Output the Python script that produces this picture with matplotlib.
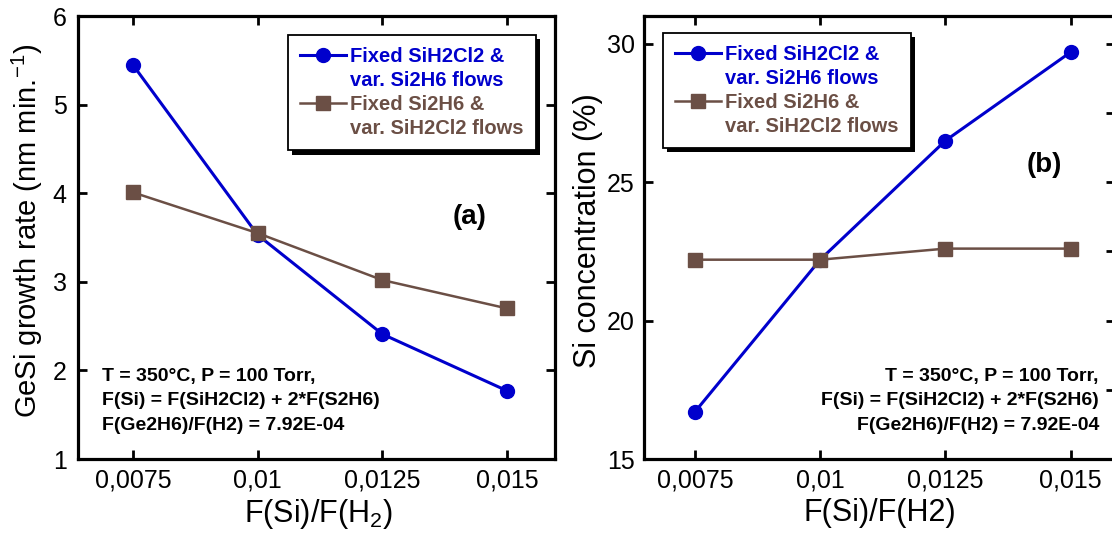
import matplotlib
matplotlib.use("Agg")
import matplotlib.pyplot as plt
from matplotlib.lines import Line2D
from matplotlib import patheffects as pe

plt.rcParams["font.family"] = ["Liberation Sans", "DejaVu Sans"]
plt.rcParams["mathtext.default"] = "regular"

# Flow ratio F(Si)/F(H2)
ratio = [0.0075, 0.01, 0.0125, 0.015]
ratio_labels = ["0,0075", "0,01", "0,0125", "0,015"]

# (a) GeSi growth rate, nm/min
rate_fixed_dcs = [5.45, 3.53, 2.41, 1.77]
rate_fixed_disilane = [4.01, 3.55, 3.02, 2.70]

# (b) Si concentration, %
si_fixed_dcs = [16.7, 22.2, 26.5, 29.7]
si_fixed_disilane = [22.2, 22.2, 22.6, 22.6]

BLUE = "#0000CC"
BROWN = "#6B4F45"

label_dcs = ["Fixed SiH2Cl2 &", "var. Si2H6 flows"]
label_disilane = ["Fixed Si2H6 &", "var. SiH2Cl2 flows"]
conditions = ("T = 350\u00b0C, P = 100 Torr,\n"
              "F(Si) = F(SiH2Cl2) + 2*F(S2H6)\n"
              "F(Ge2H6)/F(H2) = 7.92E-04")

fig = plt.figure(figsize=(11.12, 5.35), dpi=100)
ax1 = fig.add_axes([0.0701, 0.142, 0.429, 0.828])
ax2 = fig.add_axes([0.579, 0.142, 0.4236, 0.828])


def style_axes(ax):
    for s in ax.spines.values():
        s.set_linewidth(2.3)
    ax.tick_params(which="both", direction="in", top=True, right=True,
                   length=6.5, width=2.0, labelsize=18)
    ax.set_xticks(ratio)
    ax.set_xticklabels(ratio_labels)
    ax.tick_params(axis="x", pad=7)


def draw_legend(ax, anchor):
    handles = [
        Line2D([], [], color=BLUE, lw=2.2, marker="o", ms=10),
        Line2D([], [], linestyle="none"),
        Line2D([], [], color=BROWN, lw=1.8, marker="s", ms=9.5),
        Line2D([], [], linestyle="none"),
    ]
    labels = label_dcs + label_disilane
    leg = ax.legend(handles, labels, loc="upper left", bbox_to_anchor=anchor,
                    borderaxespad=0, frameon=True, fancybox=False,
                    framealpha=1.0, facecolor="white",
                    handlelength=2.3, handletextpad=0.2, labelspacing=0.25,
                    borderpad=0.6, prop={"weight": "bold", "size": 14.5})
    frame = leg.get_frame()
    frame.set_edgecolor("black")
    frame.set_linewidth(1.3)
    frame.set_path_effects([pe.SimplePatchShadow(offset=(3, -3),
                                                 shadow_rgbFace="black",
                                                 alpha=1.0),
                            pe.Normal()])
    for txt, col in zip(leg.get_texts(), [BLUE, BLUE, BROWN, BROWN]):
        txt.set_color(col)
    return leg


# ---- (a) growth rate ----
ax1.plot(ratio, rate_fixed_dcs, color=BLUE, lw=2.2, marker="o", ms=10,
         zorder=3)
ax1.plot(ratio, rate_fixed_disilane, color=BROWN, lw=1.8, marker="s", ms=9.5,
         zorder=4)
style_axes(ax1)
ax1.set_xlim(0.0064, 0.01596)
ax1.set_ylim(1, 6)
ax1.set_yticks([1, 2, 3, 4, 5, 6])
ax1.tick_params(axis="y", pad=8)
ax1.set_ylabel("GeSi growth rate (nm min.$^{-1}$)", fontsize=21)
ax1.yaxis.set_label_coords(-0.069, 0.515)
ax1.set_xlabel("F(Si)/F(H$_2$)", fontsize=22)
ax1.xaxis.set_label_coords(0.503, -0.085)
draw_legend(ax1, (0.440, 0.957))
ax1.text(0.82, 0.546, "(a)", transform=ax1.transAxes, fontsize=20,
         fontweight="bold", ha="center", va="center")
ax1.text(0.05, 0.205, conditions, transform=ax1.transAxes, fontsize=14,
         fontweight="bold", ha="left", va="top", linespacing=1.55)

# ---- (b) Si concentration ----
ax2.plot(ratio, si_fixed_dcs, color=BLUE, lw=2.2, marker="o", ms=10,
         zorder=3)
ax2.plot(ratio, si_fixed_disilane, color=BROWN, lw=1.8, marker="s", ms=9.5,
         zorder=4)
style_axes(ax2)
ax2.set_xlim(0.006483, 0.01588)
ax2.set_ylim(15, 31)
ax2.set_yticks([15, 20, 25, 30])
ax2.set_yticks([17.5, 22.5, 27.5], minor=True)
ax2.tick_params(axis="y", which="minor", left=False, right=True)
ax2.tick_params(axis="y", pad=6.5)
ax2.set_ylabel("Si concentration (%)", fontsize=22)
ax2.yaxis.set_label_coords(-0.086, 0.515)
ax2.set_xlabel("F(Si)/F(H2)", fontsize=22)
ax2.xaxis.set_label_coords(0.501, -0.088)
draw_legend(ax2, (0.040, 0.962))
ax2.text(0.851, 0.664, "(b)", transform=ax2.transAxes, fontsize=20,
         fontweight="bold", ha="center", va="center")
ax2.text(0.966, 0.205, conditions, transform=ax2.transAxes, fontsize=14,
         fontweight="bold", ha="right", va="top", multialignment="right",
         linespacing=1.55)

fig.savefig("out.png", dpi=100)
